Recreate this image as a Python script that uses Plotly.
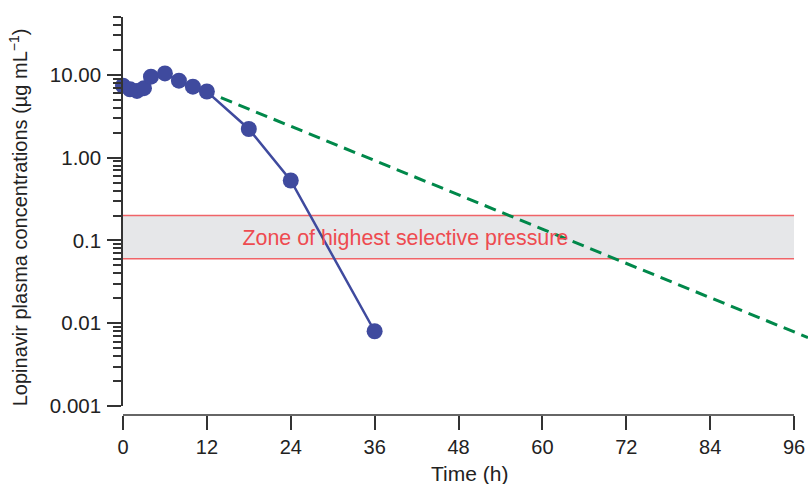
import plotly.graph_objects as go

# Lopinavir plasma concentration-time profile
time_h = [0, 1, 2, 3, 4, 6, 8, 10, 12, 18, 24, 36]
conc = [7.4, 6.7, 6.4, 6.9, 9.5, 10.4, 8.5, 7.2, 6.3, 2.22, 0.53, 0.008]

# Extrapolated terminal decline (dashed)
extrap_time = [14, 98]
extrap_conc = [5.3, 0.0067]

# Zone of highest selective pressure
zone_time = [0, 96]
zone_low = 0.06
zone_high = 0.2
zone_label = "Zone of highest selective pressure"
zone_label_pos = (40.4, 0.102)

# Axis ticks
x_ticks = [0, 12, 24, 36, 48, 60, 72, 84, 96]
y_ticks = [0.001, 0.01, 0.1, 1, 10]
y_ticktext = ["0.001", "0.01", "0.1", "1.00", "10.00"]
y_minor = [m * d for d in (0.001, 0.01, 0.1, 1) for m in range(2, 10)] + [20, 30, 40, 50]

BLUE = "#3f4a9e"
GREEN = "#00884a"
RED = "#ee4b50"
AXIS = "#333333"
FONT = "Liberation Sans, Arial, sans-serif"

fig = go.Figure()

# grey band
fig.add_trace(go.Scatter(x=zone_time, y=[zone_low, zone_low], mode="lines",
                         line=dict(width=0, color="rgba(0,0,0,0)"),
                         hoverinfo="skip", showlegend=False))
fig.add_trace(go.Scatter(x=zone_time, y=[zone_high, zone_high], mode="lines",
                         fill="tonexty", fillcolor="#e6e7e9",
                         line=dict(width=0, color="rgba(0,0,0,0)"),
                         hoverinfo="skip", showlegend=False))
# red band edges
for v in (zone_low, zone_high):
    fig.add_trace(go.Scatter(x=zone_time, y=[v, v], mode="lines",
                             line=dict(color="#f06468", width=1.5),
                             hoverinfo="skip", showlegend=False))

# extrapolated line
fig.add_trace(go.Scatter(x=extrap_time, y=extrap_conc, mode="lines",
                         line=dict(color=GREEN, width=3, dash="12px,7px"),
                         showlegend=False))

# observed concentrations
fig.add_trace(go.Scatter(x=time_h, y=conc, mode="lines+markers",
                         line=dict(color=BLUE, width=2.5),
                         marker=dict(color=BLUE, size=16, symbol="circle"),
                         cliponaxis=False, showlegend=False))

# band label
fig.add_trace(go.Scatter(x=[zone_label_pos[0]], y=[zone_label_pos[1]], mode="text",
                         text=[zone_label], textposition="middle center",
                         textfont=dict(color=RED, size=21.4, family=FONT),
                         hoverinfo="skip", showlegend=False))

# custom x-axis baseline that stops at 96 h
fig.add_shape(type="line", xref="x", yref="paper", x0=0, x1=96, y0=0, y1=0,
              line=dict(color=AXIS, width=1.5))

plot_h = 484 - 16.5 - 69

fig.update_layout(
    width=808, height=484,
    margin=dict(l=123, r=0, t=16.5, b=69),
    paper_bgcolor="white", plot_bgcolor="white",
    font=dict(family=FONT, size=20, color="#222222"),
    xaxis=dict(
        range=[0, 98], tickvals=x_ticks, ticks="outside", ticklen=14,
        tickwidth=1.5, tickcolor=AXIS, showline=False, showgrid=False,
        zeroline=False, anchor="free", position=0,
        tickfont=dict(size=20),
    ),
    yaxis=dict(
        type="log", range=[-3, 1.69897], domain=[9 / plot_h, 1],
        tickvals=y_ticks, ticktext=y_ticktext, ticks="outside", ticklen=14,
        tickwidth=1.5, tickcolor=AXIS, showline=True, linecolor=AXIS,
        linewidth=1.5, showgrid=False, zeroline=False,
        tickfont=dict(size=20.5), ticklabelstandoff=2,
        minor=dict(tickmode="array", tickvals=y_minor, ticks="outside",
                   ticklen=8, tickwidth=1.5, tickcolor=AXIS, showgrid=False),
    ),
    annotations=[
        dict(text="Time (h)", xref="paper", yref="paper",
             x=(469 - 123) / 685, y=(415 - 474) / plot_h,
             xanchor="center", yanchor="middle", showarrow=False,
             font=dict(size=21, family=FONT, color="#222222")),
        dict(text="Lopinavir plasma concentrations (µg mL<sup>−1</sup>)",
             xref="paper", yref="paper",
             x=(18 - 123) / 685, y=(415 - 217) / plot_h,
             xanchor="center", yanchor="middle", textangle=-90,
             showarrow=False,
             font=dict(size=20, family=FONT, color="#222222")),
    ],
)

fig.write_html("out.html")
